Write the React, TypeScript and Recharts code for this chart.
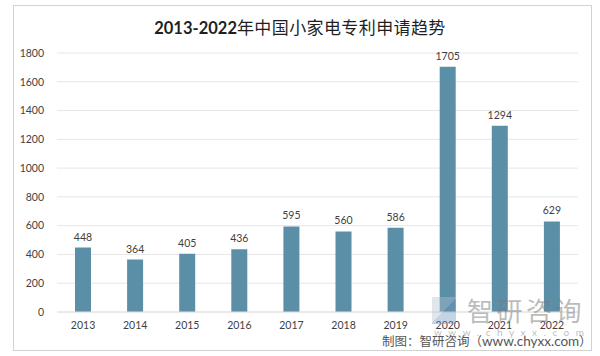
import { Bar, BarChart, CartesianGrid, LabelList, XAxis, YAxis } from "recharts";

const years = ["2013", "2014", "2015", "2016", "2017", "2018", "2019", "2020", "2021", "2022"];
const patents = [448, 364, 405, 436, 595, 560, 586, 1705, 1294, 629];
const yTicks = [0, 200, 400, 600, 800, 1000, 1200, 1400, 1600, 1800];

const data = years.map((year, i) => ({ year, patents: patents[i] }));

const cjk = '"Noto Sans CJK SC", sans-serif';
const latin = 'Lato, "Open Sans", sans-serif';
const tick = { fontSize: 10.5, fill: "#3f3f3f", fontFamily: latin };

export default function App() {
  return (
    <div style={{ position: "absolute", left: 0, top: 0, width: 600, height: 356, background: "#fff", overflow: "hidden", fontFamily: cjk }}>
      <div style={{ position: "absolute", left: 13, top: 5, width: 577, height: 344, border: "1px solid #d2d2d2" }} />
      <div style={{ position: "absolute", left: 0, top: 15, width: 600, textAlign: "center", fontSize: 17, lineHeight: "24px", color: "#1f1f1f", whiteSpace: "nowrap" }}>
        <span style={{ fontFamily: latin, fontWeight: 700, fontSize: 16.5 }}>2013-2022</span>
        <span style={{ letterSpacing: 0.4 }}>年中国小家电专利申请趋势</span>
      </div>
      <BarChart
        width={600}
        height={356}
        data={data}
        style={{ position: "absolute", left: 0, top: 0 }}
        margin={{ top: 53, right: 22, bottom: 14, left: 22 }}
      >
        <CartesianGrid vertical={false} stroke="#e6e6e6" strokeWidth={1} />
        <XAxis dataKey="year" interval={0} axisLine={{ stroke: "#e0e0e0" }} tickLine={false} tick={tick} tickMargin={4} />
        <YAxis domain={[0, 1800]} ticks={yTicks} interval={0} axisLine={false} tickLine={false} tick={tick} width={35} tickMargin={7} />
        <Bar dataKey="patents" fill="#5b8fa8" barSize={16} isAnimationActive={false}>
          <LabelList dataKey="patents" position="top" offset={7} style={{ fontSize: 10.5, fill: "#3f3f3f", fontFamily: latin }} />
        </Bar>
      </BarChart>
      <div style={{ position: "absolute", left: 432, top: 297, width: 24, height: 27, opacity: 0.4, background: "linear-gradient(135deg, #b4bfd0 50%, #6f94bd 50%)" }} />
      <div style={{ position: "absolute", left: 467, top: 295, fontSize: 26, letterSpacing: 3.5, color: "rgba(120,120,120,0.5)", lineHeight: "30px", whiteSpace: "nowrap" }}>智研咨询</div>
      <div style={{ position: "absolute", left: 434, top: 326, fontSize: 10, letterSpacing: 6.5, color: "rgba(130,130,130,0.55)", lineHeight: "12px", whiteSpace: "nowrap", fontFamily: latin }}>www.chyxx.com</div>
      <div style={{ position: "absolute", left: 382, top: 333, fontSize: 12.5, color: "#555", lineHeight: "15px", whiteSpace: "nowrap" }}>
        制图：智研咨询（<span style={{ fontFamily: latin, fontSize: 13.5 }}>www.chyxx.com</span>）
      </div>
    </div>
  );
}
